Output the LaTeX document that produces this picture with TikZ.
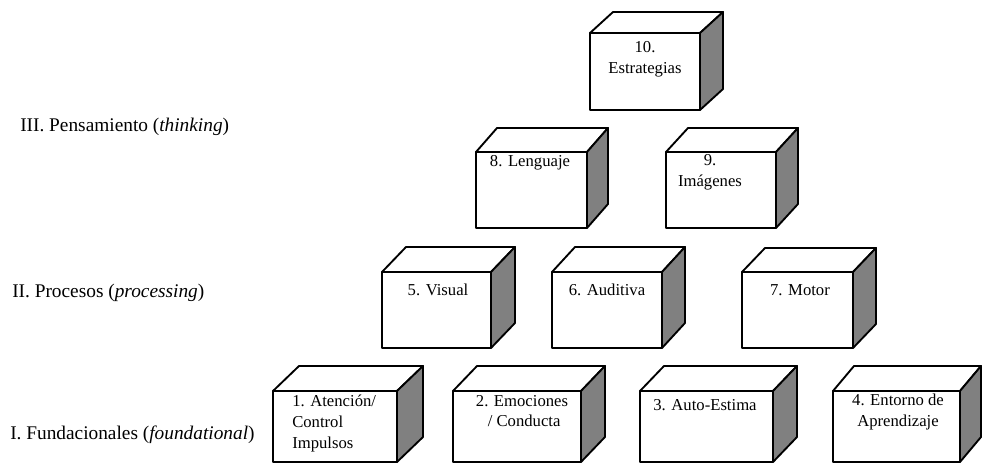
\documentclass[tikz,border=0pt]{standalone}
\usepackage{fontspec}
\setmainfont{Liberation Serif}
\usepackage{tikz}

\begin{document}
\begin{tikzpicture}[x=0.75pt,y=0.75pt,yscale=-1,xscale=1,
    tapa/.style={draw,line width=1.4pt,line join=round,fill=white},
    lado/.style={draw,line width=1.4pt,line join=round,fill={rgb, 255:red, 128; green, 128; blue, 128 }},
    frente/.style={draw,line width=1.4pt,line join=round,fill=white},
    etiqueta/.style={font=\fontsize{12.5}{15.5}\selectfont,align=center,inner sep=0pt},
    nivel/.style={font=\fontsize{14.5}{17}\selectfont,anchor=west,inner sep=0pt}]

    \useasboundingbox (0,0) rectangle (982,465);

    %Shape: Cube [10. Estrategias]
    \draw [tapa] (590,33) -- (613,12) -- (723,12) -- (700,33) -- cycle ;
    \draw [lado] (700,33) -- (723,12) -- (723,89) -- (700,110) -- cycle ;
    \draw [frente] (590,33) -- (700,33) -- (700,110) -- (590,110) -- cycle ;
    %Shape: Cube [8. Lenguaje]
    \draw [tapa] (476,152) -- (497,128) -- (608,128) -- (587,152) -- cycle ;
    \draw [lado] (587,152) -- (608,128) -- (608,204) -- (587,228) -- cycle ;
    \draw [frente] (476,152) -- (587,152) -- (587,228) -- (476,228) -- cycle ;
    %Shape: Cube [9. Imagenes]
    \draw [tapa] (666,152) -- (688,128) -- (798,128) -- (776,152) -- cycle ;
    \draw [lado] (776,152) -- (798,128) -- (798,204) -- (776,228) -- cycle ;
    \draw [frente] (666,152) -- (776,152) -- (776,228) -- (666,228) -- cycle ;
    %Shape: Cube [5. Visual]
    \draw [tapa] (382,272) -- (406,247) -- (515,247) -- (491,272) -- cycle ;
    \draw [lado] (491,272) -- (515,247) -- (515,323) -- (491,348) -- cycle ;
    \draw [frente] (382,272) -- (491,272) -- (491,348) -- (382,348) -- cycle ;
    %Shape: Cube [6. Auditiva]
    \draw [tapa] (552,272) -- (575,247) -- (685,247) -- (662,272) -- cycle ;
    \draw [lado] (662,272) -- (685,247) -- (685,323) -- (662,348) -- cycle ;
    \draw [frente] (552,272) -- (662,272) -- (662,348) -- (552,348) -- cycle ;
    %Shape: Cube [7. Motor]
    \draw [tapa] (742,272) -- (765,248) -- (876,248) -- (853,272) -- cycle ;
    \draw [lado] (853,272) -- (876,248) -- (876,324) -- (853,348) -- cycle ;
    \draw [frente] (742,272) -- (853,272) -- (853,348) -- (742,348) -- cycle ;
    %Shape: Cube [1. Atencion]
    \draw [tapa] (273,391) -- (299,366) -- (423,366) -- (397,391) -- cycle ;
    \draw [lado] (397,391) -- (423,366) -- (423,437) -- (397,462) -- cycle ;
    \draw [frente] (273,391) -- (397,391) -- (397,462) -- (273,462) -- cycle ;
    %Shape: Cube [2. Emociones]
    \draw [tapa] (453,391) -- (477,366) -- (605,366) -- (581,391) -- cycle ;
    \draw [lado] (581,391) -- (605,366) -- (605,437) -- (581,462) -- cycle ;
    \draw [frente] (453,391) -- (581,391) -- (581,462) -- (453,462) -- cycle ;
    %Shape: Cube [3. Auto-Estima]
    \draw [tapa] (640,391) -- (664,366) -- (797,366) -- (773,391) -- cycle ;
    \draw [lado] (773,391) -- (797,366) -- (797,437) -- (773,462) -- cycle ;
    \draw [frente] (640,391) -- (773,391) -- (773,462) -- (640,462) -- cycle ;
    %Shape: Cube [4. Entorno]
    \draw [tapa] (833,391) -- (854,366) -- (981,366) -- (960,391) -- cycle ;
    \draw [lado] (960,391) -- (981,366) -- (981,437) -- (960,462) -- cycle ;
    \draw [frente] (833,391) -- (960,391) -- (960,462) -- (833,462) -- cycle ;

    % Box labels
    \node [etiqueta] (estrategias) at (645,59) {10.\\Estrategias};
    \node [etiqueta] (lenguaje) at (530,163) {8. Lenguaje};
    \node [etiqueta] (imagenes) at (710,172) {9.\\Imágenes};
    \node [etiqueta] (visual) at (438,290) {5. Visual};
    \node [etiqueta] (auditiva) at (607,290) {6. Auditiva};
    \node [etiqueta] (motor) at (800,290) {7. Motor};
    \node [etiqueta,align=left,anchor=north west] (atencion) at (292,395) {1. Atención/\\Control\\Impulsos};
    \node [etiqueta] (emociones) at (522,411) {2. Emociones\\\ / Conducta};
    \node [etiqueta] (autoestima) at (705,405) {3. Auto-Estima};
    \node [etiqueta] (entorno) at (898,412) {4. Entorno de\\Aprendizaje};

    % Level labels
    \node [nivel] (pensamiento) at (20,127) {III. Pensamiento (\textit{thinking})};
    \node [nivel] (procesos) at (12,293) {II. Procesos (\textit{processing})};
    \node [nivel] (fundacionales) at (10,435) {I. Fundacionales (\textit{foundational})};

\end{tikzpicture}
\end{document}
